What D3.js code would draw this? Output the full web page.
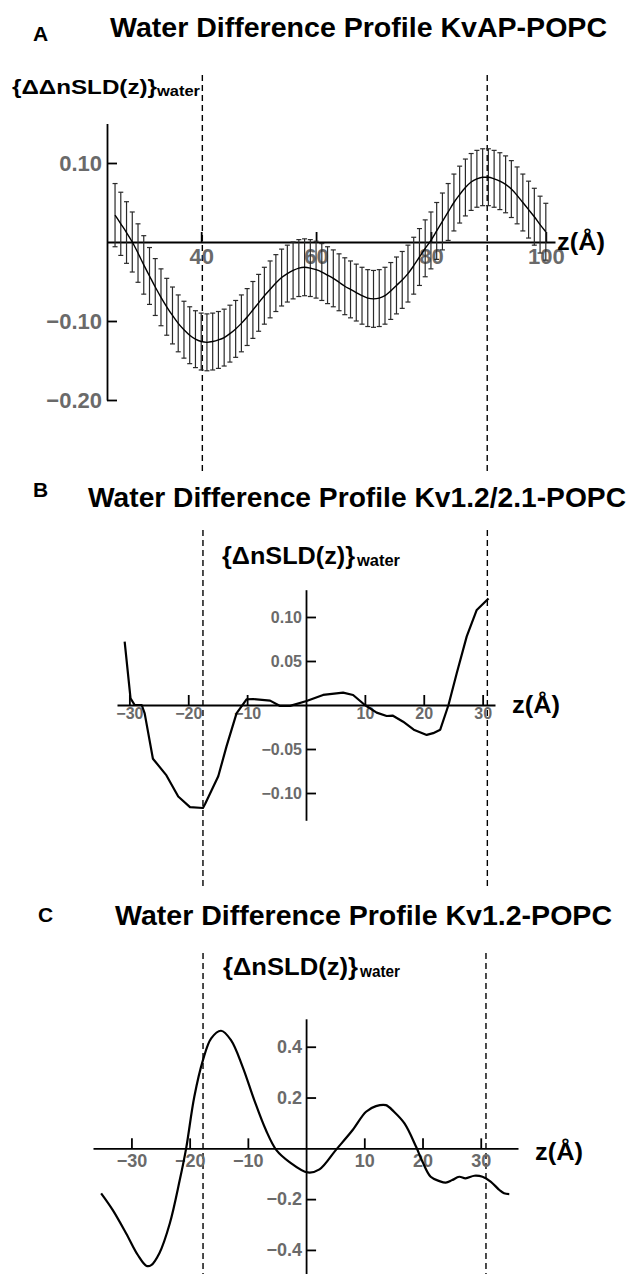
<!DOCTYPE html>
<html><head><meta charset="utf-8">
<script src="https://cdn.jsdelivr.net/npm/d3@7"></script>
<style>body{margin:0;background:#fff}svg text{font-family:"Liberation Sans",Arial,Helvetica,sans-serif}</style>
</head><body><script>
// ---------- DATA ----------
// Panel A: KvAP-POPC (value with error bars every 1 Å)
const zA = [25,26,27,28,29,30,31,32,33,34,35,36,37,38,39,40,41,42,43,44,45,46,47,48,49,50,
  51,52,53,54,55,56,57,58,59,60,61,62,63,64,65,66,67,68,69,70,71,72,73,74,75,76,77,78,79,80,
  81,82,83,84,85,86,87,88,89,90,91,92,93,94,95,96,97,98,99,100];
const valA = [0.034,0.023,0.012,0.000,-0.014,-0.029,-0.043,-0.057,-0.070,-0.082,-0.093,-0.103,-0.111,-0.118,-0.123,-0.126,
  -0.127,-0.126,-0.124,-0.121,-0.116,-0.110,-0.103,-0.095,-0.086,-0.077,-0.068,-0.060,-0.052,-0.045,-0.040,-0.036,
  -0.033,-0.032,-0.033,-0.035,-0.038,-0.042,-0.046,-0.051,-0.056,-0.060,-0.064,-0.068,-0.071,-0.072,-0.071,-0.068,
  -0.062,-0.055,-0.048,-0.040,-0.030,-0.019,-0.008,0.002,0.014,0.026,0.038,0.050,0.060,0.069,0.076,0.080,
  0.082,0.082,0.080,0.077,0.073,0.067,0.059,0.050,0.041,0.032,0.022,0.013];
const errA = [0.040,0.040,0.039,0.038,0.037,0.037,0.036,0.036,0.036,0.036,0.036,0.036,0.036,0.036,0.036,0.036,
  0.036,0.036,0.036,0.036,0.036,0.036,0.036,0.036,0.036,0.036,0.036,0.036,0.036,0.036,0.036,0.036,
  0.036,0.036,0.036,0.036,0.036,0.036,0.036,0.036,0.036,0.036,0.036,0.036,0.036,0.036,0.036,0.036,
  0.036,0.036,0.036,0.036,0.036,0.036,0.036,0.036,0.036,0.036,0.036,0.036,0.036,0.036,0.036,0.036,
  0.036,0.036,0.036,0.036,0.036,0.036,0.036,0.036,0.036,0.036,0.036,0.036];
const xTicksA = [40,60,80,100];
const yTicksA = [0.10,-0.10,-0.20];
const dashesA = [40.2,89.8];

// Panel B: Kv1.2/2.1-POPC
const zB = [-30.8,-29.8,-29.1,-27.9,-27.4,-26.0,-23.7,-21.7,-19.7,-17.5,-17.1,-14.9,-13.5,-11.8,-10.1,-9.0,
  -6.1,-4.4,-2.7,0.1,2.9,6.3,8.0,10.0,12.0,13.7,14.7,16.5,18.3,20.5,21.6,22.8,24.2,25.6,27.3,29.0,31.0];
const valB = [0.072,0.0076,0.0,0.0,-0.0095,-0.061,-0.080,-0.104,-0.116,-0.117,-0.112,-0.081,-0.047,-0.0095,0.0064,0.0068,
  0.005,-0.0011,-0.001,0.0045,0.0114,0.014,0.0114,0.0,-0.0087,-0.0125,-0.012,-0.019,-0.028,-0.034,-0.032,-0.028,
  0.0,0.036,0.078,0.108,0.121];
const xTicksB = [-30,-20,-10,10,20,30];
const yTicksB = [0.10,0.05,-0.05,-0.10];
const dashesB = [-17.5,30.8];

// Panel C: Kv1.2-POPC
const zC = [-35.2,-33.2,-30.9,-28.9,-27.4,-26.6,-25.2,-23.4,-21.7,-20.6,-19.2,-17.7,-16.3,-14.6,-12.9,-10.9,
  -8.9,-6.9,-5.1,-2.9,0.3,2.3,5.1,8.0,10.3,12.0,13.7,15.1,16.9,18.9,20.0,21.4,22.9,24.0,25.1,26.3,27.4,28.9,
  30.3,31.7,33.2,34.0,34.9];
const valC = [-0.177,-0.243,-0.335,-0.42,-0.463,-0.46,-0.413,-0.295,-0.125,0.0,0.203,0.348,0.433,0.463,0.426,0.321,
  0.19,0.072,-0.007,-0.053,-0.095,-0.083,-0.007,0.072,0.144,0.166,0.17,0.144,0.098,0.006,-0.053,-0.112,-0.129,-0.135,
  -0.125,-0.112,-0.118,-0.108,-0.112,-0.131,-0.164,-0.177,-0.18];
const xTicksC = [-30,-20,-10,10,20,30];
const yTicksC = [0.4,0.2,-0.2,-0.4];
const dashesC = [-17.7,30.9];

const titles = ["Water Difference Profile KvAP-POPC","Water Difference Profile Kv1.2/2.1-POPC","Water Difference Profile Kv1.2-POPC"];
const letters = ["A","B","C"];

// ---------- DRAW ----------
const W = 637, H = 1274;
const svg = d3.select("body").append("svg").attr("width", W).attr("height", H);

function header(letter, lx, lb, title, tx, tw, tb){
  svg.append("text").attr("x", lx).attr("y", lb).attr("font-size", 21).attr("font-weight", "bold").text(letter);
  svg.append("text").attr("x", tx).attr("y", tb).attr("font-size", 28).attr("font-weight", "bold")
    .attr("textLength", tw).attr("lengthAdjust", "spacingAndGlyphs").text(title);
}
function ylabel(main, x, b, w, fs, sx, sw, sfs){
  svg.append("text").attr("x", x).attr("y", b).attr("font-size", fs).attr("font-weight", "bold")
    .attr("textLength", w).attr("lengthAdjust", "spacingAndGlyphs").text(main);
  svg.append("text").attr("x", sx).attr("y", b + 2).attr("font-size", sfs).attr("font-weight", "bold")
    .attr("textLength", sw).attr("lengthAdjust", "spacingAndGlyphs").text("water");
}

function panel(c){
  const x = d3.scaleLinear().domain(c.xDomain).range(c.xRange);
  const y = d3.scaleLinear().domain(c.yDomain).range(c.yRange);
  const g = svg.append("g");
  c.dashes.forEach(d => {
    c.dashSpans.forEach(s => {
      g.append("line").attr("x1", x(d)).attr("x2", x(d)).attr("y1", s[0]).attr("y2", s[1])
        .attr("stroke", "#000").attr("stroke-width", 1.4).attr("stroke-dasharray", "6,4");
    });
  });
  const xa = g.append("g").attr("transform", `translate(0,${y(0)})`)
    .call(d3.axisBottom(x).tickValues(c.xTicks).tickSize(-10).tickSizeOuter(0).tickPadding(c.xPad).tickFormat(d3.format("d")));
  const ya = g.append("g").attr("transform", `translate(${x(c.yAxisAt)},0)`)
    .call(d3.axisLeft(y).tickValues(c.yTicks).tickSize(-10).tickSizeOuter(0).tickPadding(c.yPad).tickFormat(d3.format(c.yFmt)));
  [xa, ya].forEach(a => {
    a.select(".domain").attr("stroke", "#000").attr("stroke-width", 1.8);
    a.selectAll(".tick line").attr("stroke", "#000").attr("stroke-width", 1.8);
    a.selectAll(".tick text").attr("fill", "#6a6a6a").attr("font-weight", "bold")
      .attr("font-size", c.tickFs).attr("font-family", '"Liberation Sans",Arial,sans-serif');
  });
  if (c.err){
    const eb = g.append("g").attr("stroke", "#2a2a2a").attr("stroke-width", 1.2);
    c.z.forEach((z, i) => {
      const xx = x(z), y1 = y(c.v[i] + c.err[i]), y2 = y(c.v[i] - c.err[i]);
      eb.append("line").attr("x1", xx).attr("x2", xx).attr("y1", y1).attr("y2", y2);
      eb.append("line").attr("x1", xx - 2.5).attr("x2", xx + 2.5).attr("y1", y1).attr("y2", y1);
      eb.append("line").attr("x1", xx - 2.5).attr("x2", xx + 2.5).attr("y1", y2).attr("y2", y2);
    });
  }
  const line = d3.line().x(d => x(d[0])).y(d => y(d[1])).curve(c.curve);
  g.append("path").datum(c.z.map((z, i) => [z, c.v[i]])).attr("d", line)
    .attr("fill", "none").attr("stroke", "#000").attr("stroke-width", c.lw).attr("stroke-linejoin", "round");
  svg.append("text").attr("x", c.zlx).attr("y", y(0) + c.zlb).attr("font-size", 23).attr("font-weight", "bold")
    .attr("textLength", 48).attr("lengthAdjust", "spacingAndGlyphs").text("z(Å)");
}

// Panel A
header(letters[0], 33, 41, titles[0], 110, 497, 37);
ylabel("{ΔΔnSLD(z)}", 12, 94, 145, 21, 157, 43, 15);
panel({xDomain:[23.6,101.6], xRange:[107,555], yDomain:[-0.20,0.15], yRange:[400,123.5],
  z:zA, v:valA, err:errA, xTicks:xTicksA, yTicks:yTicksA, dashes:dashesA, dashSpans:[[75,472]],
  yAxisAt:23.6, xPad:6, yPad:5, yFmt:".2f", tickFs:22, lw:1.4, curve:d3.curveMonotoneX, zlx:557, zlb:8});

// Panel B
header(letters[1], 33, 497, titles[1], 88, 538, 507);
ylabel("{ΔnSLD(z)}", 222, 564, 133, 23, 357, 43, 16);
panel({xDomain:[-32.1,32.1], xRange:[117,495], yDomain:[-0.131,0.131], yRange:[820.3,589.7],
  z:zB, v:valB, xTicks:xTicksB, yTicks:yTicksB, dashes:dashesB, dashSpans:[[530,886]],
  yAxisAt:0, xPad:3, yPad:4, yFmt:".2f", tickFs:16, lw:2.2, curve:d3.curveLinear, zlx:512, zlb:8});

// Panel C
header(letters[2], 38, 922, titles[2], 115, 497, 925);
ylabel("{ΔnSLD(z)}", 223, 975, 135, 23, 360, 40, 16);
panel({xDomain:[-36.6,36.4], xRange:[93,518], yDomain:[-0.494,0.51], yRange:[1273.8,1018.8],
  z:zC, v:valC, xTicks:xTicksC, yTicks:yTicksC, dashes:dashesC, dashSpans:[[953,1274]],
  yAxisAt:0, xPad:6, yPad:4, yFmt:".1f", tickFs:18, lw:2.2, curve:d3.curveCatmullRom, zlx:535, zlb:12});
</script></body></html>
